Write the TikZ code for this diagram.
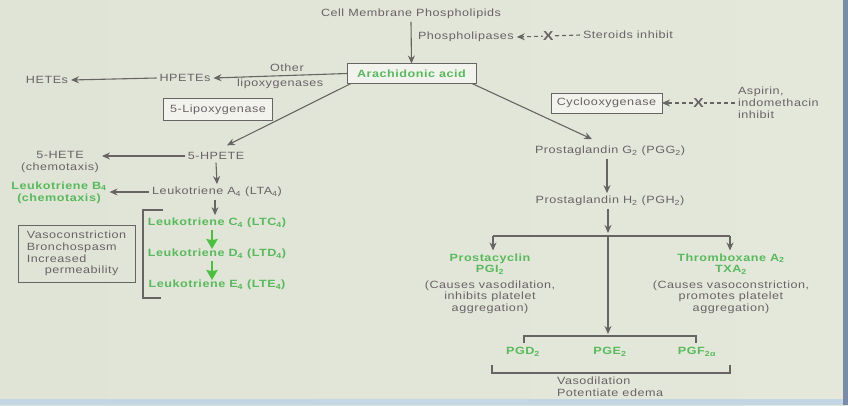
\documentclass[tikz,border=0pt]{standalone}
\usepackage{fontspec}
\setmainfont{Liberation Sans}[FakeStretch=1.2,LetterSpace=5]
\usetikzlibrary{calc,positioning,arrows.meta}

\definecolor{slidebg}{RGB}{228,232,219}
\definecolor{slideleft}{RGB}{224,228,214}
\definecolor{inkgray}{RGB}{106,98,102}
\definecolor{linegray}{RGB}{104,100,100}
\definecolor{leafgreen}{RGB}{88,186,92}
\definecolor{arrowgreen}{RGB}{72,194,62}
\definecolor{edgeblue}{RGB}{120,140,170}
\definecolor{footblue}{RGB}{196,214,228}

\begin{document}
\begin{tikzpicture}[
    x=1pt, y=-1pt,
    every node/.style={font=\fontsize{10.5}{11.8}\selectfont, text=inkgray, inner sep=1pt, outer sep=2pt},
    enzyme/.style={rectangle, draw=linegray, line width=1pt, fill=slidebg!50!white, inner sep=0pt, outer sep=0pt},
    product/.style={font=\fontsize{10.5}{11.8}\selectfont\bfseries, text=leafgreen, align=center},
    note/.style={align=center},
    arrow/.style={-{Stealth[length=8pt,width=7pt]}, line width=1.1pt, linegray},
    greenarrow/.style={-{Stealth[length=10pt,width=11pt,inset=1pt]}, line width=2.4pt, arrowgreen},
    plain/.style={line width=1.1pt, linegray},
    inhibit/.style={-{Stealth[length=8pt,width=7pt]}, line width=1.1pt, linegray, dash pattern=on 4pt off 3pt},
    cross/.style={font=\fontsize{13}{13}\selectfont\bfseries, fill=slidebg, inner sep=0.5pt, outer sep=0pt},
]

% Slide background
\shade[left color=slideleft, right color=slidebg] (0,0) rectangle (848,405);
\fill[edgeblue] (843,0) rectangle (848,405);
\fill[footblue] (0,399) rectangle (843,405);
\useasboundingbox (0,0) rectangle (848,405);

% Top of the cascade
\node (membrane) at (411,14) {Cell Membrane Phospholipids};
\node[anchor=west] (plipase) at (415,37) {Phospholipases};
\node[anchor=west] (steroids) at (580,35) {Steroids inhibit};
\node[enzyme, product, minimum width=129pt, minimum height=20pt] (arach) at (411.5,73.5) {Arachidonic acid};

% Other lipoxygenases
\node (hpetes) at (185,78) {HPETEs};
\node (hetes) at (47,80) {HETEs};
\node[enzyme, minimum width=109pt, minimum height=22pt] (lox5) at (218,109.5) {5-Lipoxygenase};

% 5-Lipoxygenase branch
\node (hpete5) at (216,156) {5-HPETE};
\node[note] (hete5) at (60,162) {5-HETE\\(chemotaxis)};
\node (lta) at (217,192) {Leukotriene A\textsubscript{4} (LTA\textsubscript{4})};
\node[product] (ltb) at (59,192.5) {Leukotriene B\textsubscript{4}\\(chemotaxis)};
\node[product] (ltc) at (217,223) {Leukotriene C\textsubscript{4} (LTC\textsubscript{4})};
\node[product] (ltd) at (217,254) {Leukotriene D\textsubscript{4} (LTD\textsubscript{4})};
\node[product] (lte) at (217,285) {Leukotriene E\textsubscript{4} (LTE\textsubscript{4})};
\node[rectangle, draw=linegray, line width=1pt, minimum width=117pt, minimum height=57pt, align=left, inner sep=0pt] (ltfx) at (76.5,253.5)
    {Vasoconstriction\\Bronchospasm\\Increased\\\hspace*{18pt}permeability};

% Cyclooxygenase branch
\node[enzyme, minimum width=111pt, minimum height=20pt] (cox) at (606.5,103) {Cyclooxygenase};
\node[anchor=west, align=left] (aspirin) at (735,103) {Aspirin,\\indomethacin\\inhibit};
\node (pgg) at (610,151) {Prostaglandin G\textsubscript{2} (PGG\textsubscript{2})};
\node (pgh) at (610,201) {Prostaglandin H\textsubscript{2} (PGH\textsubscript{2})};
\node[product] (pgi) at (490,264) {Prostacyclin\\PGI\textsubscript{2}};
\node[note, below=0pt of pgi] (pgifx) {(Causes vasodilation,\\inhibits platelet\\aggregation)};
\node[product] (txa) at (731,264) {Thromboxane A\textsubscript{2}\\TXA\textsubscript{2}};
\node[note, below=0pt of txa] (txafx) {(Causes vasoconstriction,\\promotes platelet\\aggregation)};
\node[product] (pgd) at (523,352) {PGD\textsubscript{2}};
\node[product] (pge) at (610,352) {PGE\textsubscript{2}};
\node[product] (pgf) at (697,352) {PGF\textsubscript{2α}};
\node[anchor=north west, align=left] (vaso) at (554,374) {Vasodilation\\Potentiate edema};

% Junctions
\coordinate (split) at (608,236);
\coordinate (splitL) at (493,236);
\coordinate (splitR) at (730,236);
\coordinate (pgtop) at (608,336);

% Arrows
\draw[arrow] (membrane.south) -- (arach.north);
\draw[inhibit] (steroids.west) -- node[cross] {X} (plipase.east);
\draw[arrow] (arach.west) -- node[above=1pt, pos=0.45] (otherlab) {Other} node[below=0pt, pos=0.5] (loxlab) {lipoxygenases} (hpetes.east);
\draw[arrow] (hpetes.west) -- (hetes.east);
\draw[arrow] ($(arach.south west)+(4,0)$) -- ($(hpete5.north)+(11,-4)$);
\draw[arrow] (hpete5.west) -- (hete5.east |- hpete5.west);
\draw[arrow] (hpete5.south) -- (lta.north);
\draw[arrow] (lta.west) -- (ltb.east |- lta.west);
\draw[arrow] ([xshift=-2pt]lta.south) -- ([xshift=-2pt]ltc.north);
\draw[greenarrow] ([xshift=-5pt,yshift=1pt]ltc.south) -- ([xshift=-5pt,yshift=-3pt]ltd.north);
\draw[greenarrow] ([xshift=-5pt,yshift=1pt]ltd.south) -- ([xshift=-5pt,yshift=-3pt]lte.north);
\draw[plain] (163,210) -- (143,210) -- (143,298) -- (161,298);

\draw[arrow] ($(arach.south east)+(-4,0)$) -- ($(pgg.north)+(-18,-4)$);
\draw[inhibit] (aspirin.west) -- node[cross] {X} (cox.east);
\draw[arrow] ([xshift=-3pt]pgg.south) -- ([xshift=-3pt]pgh.north);
\draw[arrow] (pgh.south -| split) -- ([yshift=3pt]split);
\draw[plain] (splitL) -- (splitR);
\draw[arrow] (splitL) -- (splitL |- pgi.north);
\draw[arrow] (splitR) -- (splitR |- txa.north);
\draw[arrow] (split) -- ([yshift=2pt]pgtop);

% Brackets
\draw[plain] (524,343) |- (pgtop) -| (696,343);
\draw[plain] (492,365) |- (611,373) -| (730,365);

\end{tikzpicture}
\end{document}
